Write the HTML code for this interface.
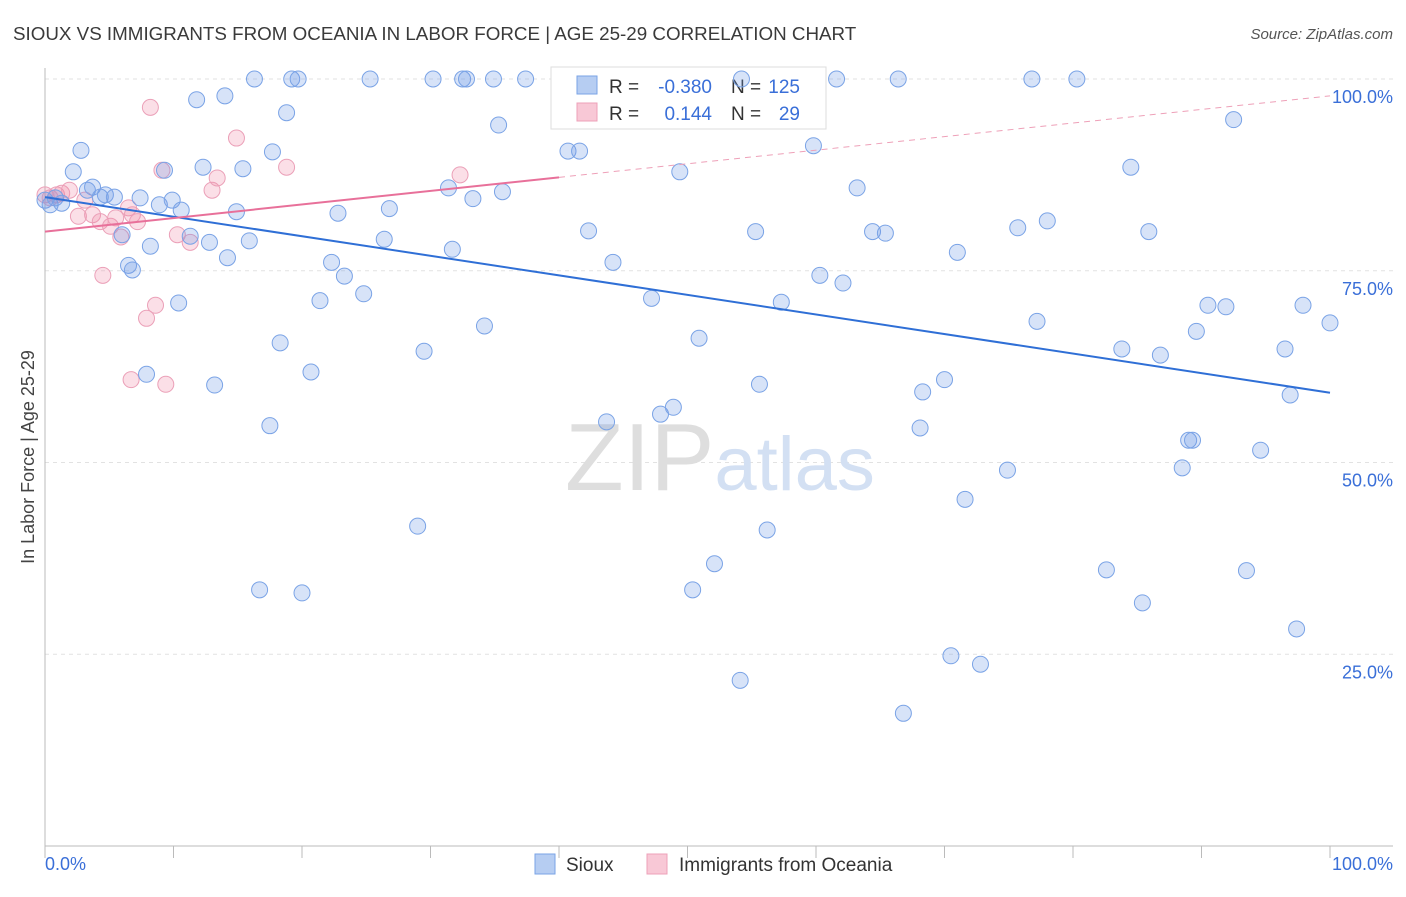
<!DOCTYPE html>
<html><head><meta charset="utf-8"><style>
body{margin:0;background:#fff;font-family:"Liberation Sans",sans-serif;}
svg text{font-family:"Liberation Sans",sans-serif;}
</style></head><body>
<svg id="chart" width="1406" height="892" xmlns="http://www.w3.org/2000/svg">
<text x="13" y="40" font-size="18.8" fill="#3a3a3a">SIOUX VS IMMIGRANTS FROM OCEANIA IN LABOR FORCE | AGE 25-29 CORRELATION CHART</text>
<text x="1393" y="39" font-size="15" fill="#555" text-anchor="end" font-style="italic">Source: ZipAtlas.com</text>
<g id="grid"></g>
<text x="720" y="490" font-size="96" text-anchor="middle" font-family="Liberation Serif"><tspan fill="#dedede">ZIP</tspan><tspan fill="#d3e0f3" font-family="Liberation Sans" font-size="76">atlas</tspan></text>
<g id="legend-top">
<rect x="551" y="67" width="275" height="62" fill="#fff" stroke="#ddd"/>
<rect x="577" y="76" width="20" height="18" fill="#b6cdf2" stroke="#7aa3e6"/>
<rect x="577" y="103" width="20" height="18" fill="#f8c8d6" stroke="#eea0b8"/>
<text x="609" y="93" font-size="19" fill="#333">R =</text>
<text x="712" y="93" font-size="19" fill="#3a6fd8" text-anchor="end">-0.380</text>
<text x="731" y="93" font-size="19" fill="#333">N =</text>
<text x="800" y="93" font-size="19" fill="#3a6fd8" text-anchor="end">125</text>
<text x="609" y="120" font-size="19" fill="#333">R =</text>
<text x="712" y="120" font-size="19" fill="#3a6fd8" text-anchor="end">0.144</text>
<text x="731" y="120" font-size="19" fill="#333">N =</text>
<text x="800" y="120" font-size="19" fill="#3a6fd8" text-anchor="end">29</text>
</g>
<g id="points"></g>
<g id="trends"></g>
<text transform="translate(34,457) rotate(-90)" font-size="18" fill="#444" text-anchor="middle">In Labor Force | Age 25-29</text>
<text x="45" y="870" font-size="18" fill="#3a6fd8">0.0%</text>
<text x="1393" y="870" font-size="18" fill="#3a6fd8" text-anchor="end">100.0%</text>
<g>
<rect x="535" y="854" width="20" height="20" fill="#b6cdf2" stroke="#7aa3e6"/>
<text x="566" y="871" font-size="19" fill="#333">Sioux</text>
<rect x="647" y="854" width="20" height="20" fill="#f8c8d6" stroke="#eea0b8"/>
<text x="679" y="871" font-size="19" fill="#333">Immigrants from Oceania</text>
</g>
</svg>
<script>
const yTicks=[25,50,75,100];
const yTickLabels=["25.0%","50.0%","75.0%","100.0%"];
const siouxX=[0,0.4,0.8,1.3,2.2,2.8,3.3,3.7,4.3,4.7,5.4,6.0,6.5,6.8,7.4,7.9,8.2,8.9,9.3,9.9,10.4,10.6,11.3,11.8,12.3,12.8,13.2,14.0,14.2,14.9,15.4,15.9,16.3,16.7,17.5,17.7,18.3,18.8,19.2,19.7,20.0,20.7,21.4,22.3,22.8,23.3,24.8,25.3,26.4,26.8,29.0,29.5,30.2,31.4,31.7,32.5,32.8,33.3,34.2,34.9,35.3,35.6,37.4,40.7,41.6,42.3,43.7,44.2,47.2,47.9,48.9,49.4,50.4,50.9,52.1,54.1,54.2,55.3,55.6,56.2,57.3,59.8,60.3,61.6,62.1,63.2,64.4,65.4,66.4,66.8,68.1,68.3,70.0,70.5,71.0,71.6,72.8,74.9,75.7,76.8,77.2,78.0,80.3,82.6,83.8,84.5,85.4,85.9,86.8,88.5,89.0,89.3,89.6,90.5,91.9,92.5,93.5,94.6,96.5,96.9,97.4,97.9,100];
const siouxY=[84.2,83.6,84.5,83.8,87.9,90.7,85.5,85.9,84.6,84.9,84.6,79.7,75.7,75.1,84.5,61.5,78.2,83.6,88.1,84.2,70.8,82.9,79.5,97.3,88.5,78.7,60.1,97.8,76.7,82.7,88.3,78.9,100,33.4,54.8,90.5,65.6,95.6,100,100,33.0,61.8,71.1,76.1,82.5,74.3,72.0,100,79.1,83.1,41.7,64.5,100,85.8,77.8,100,100,84.4,67.8,100,94.0,85.3,100,90.6,90.6,80.2,55.3,76.1,71.4,56.3,57.2,87.9,33.4,66.2,36.8,21.6,100,80.1,60.2,41.2,70.9,91.3,74.4,100,73.4,85.8,80.1,79.9,100,17.3,54.5,59.2,60.8,24.8,77.4,45.2,23.7,49.0,80.6,100,68.4,81.5,100,36.0,64.8,88.5,31.7,80.1,64.0,49.3,52.9,52.9,67.1,70.5,70.3,94.7,35.9,51.6,64.8,58.8,28.3,70.5,68.2];
const oceaniaX=[0,0.4,0.9,1.3,1.9,2.6,3.1,3.7,4.3,5.1,5.5,5.9,6.5,6.8,7.2,6.7,7.9,8.2,8.6,9.1,9.4,10.3,11.3,13.0,13.4,14.9,18.8,32.3,4.5];
const oceaniaY=[84.9,84.5,84.9,85.1,85.5,82.1,84.2,82.3,81.4,80.8,81.9,79.4,83.2,82.3,81.4,60.8,68.8,96.3,70.5,88.1,60.2,79.7,78.7,85.5,87.1,92.3,88.5,87.5,74.4];
const siouxTrend=[84.6,59.1];
const oceaniaTrend=[80.1,97.8];
const oceaniaSolidEnd=40;
const NS="http://www.w3.org/2000/svg";
const X0=45,X1=1330,Y0=846,Y100=79;
const sx=v=>X0+(X1-X0)*v/100;
const sy=v=>Y0-(Y0-Y100)*v/100;
function mk(tag,attrs,parent){const e=document.createElementNS(NS,tag);for(const k in attrs)e.setAttribute(k,attrs[k]);parent.appendChild(e);return e;}
const grid=document.getElementById('grid');
yTicks.forEach((t,i)=>{
  const l=mk('line',{x1:X0,x2:1393,y1:sy(t),y2:sy(t),stroke:'#e2e2e2','stroke-dasharray':'4,4'},grid);
  
  
  const tx=mk('text',{x:1393,y:sy(t)+24,'font-size':18,fill:'#3a6fd8','text-anchor':'end'},grid);
  tx.textContent=yTickLabels[i];
  
  
});
const ax=mk('line',{x1:X0,x2:X0,y1:68,y2:Y0,stroke:'#bbb'},grid);


const bx=mk('line',{x1:X0,x2:1393,y1:Y0,y2:Y0,stroke:'#bbb'},grid);


for(let i=0;i<=10;i++){
  const t=mk('line',{x1:sx(i*10),x2:sx(i*10),y1:Y0,y2:Y0+12,stroke:'#bbb'},grid);
  
  
}
const pts=document.getElementById('points');
oceaniaX.forEach((x,i)=>{
  const c=mk('circle',{cx:sx(x),cy:sy(oceaniaY[i]),r:8,fill:'rgba(240,140,170,0.28)',stroke:'#eba0b8','stroke-width':1},pts);
  
  
});
siouxX.forEach((x,i)=>{
  const c=mk('circle',{cx:sx(x),cy:sy(siouxY[i]),r:8,fill:'rgba(110,155,230,0.28)',stroke:'#7aa3e6','stroke-width':1},pts);
  
  
});
const tr=document.getElementById('trends');
const st=mk('line',{x1:sx(0),y1:sy(siouxTrend[0]),x2:sx(100),y2:sy(siouxTrend[1]),stroke:'#2f6fd6','stroke-width':2},tr);


const oy=v=>oceaniaTrend[0]+(oceaniaTrend[1]-oceaniaTrend[0])*v/100;
const ot=mk('line',{x1:sx(0),y1:sy(oy(0)),x2:sx(oceaniaSolidEnd),y2:sy(oy(oceaniaSolidEnd)),stroke:'#e8709a','stroke-width':2},tr);


const od=mk('line',{x1:sx(oceaniaSolidEnd),y1:sy(oy(oceaniaSolidEnd)),x2:sx(100),y2:sy(oy(100)),stroke:'#eea0b8','stroke-width':1,'stroke-dasharray':'6,5'},tr);


</script>
</body></html>
